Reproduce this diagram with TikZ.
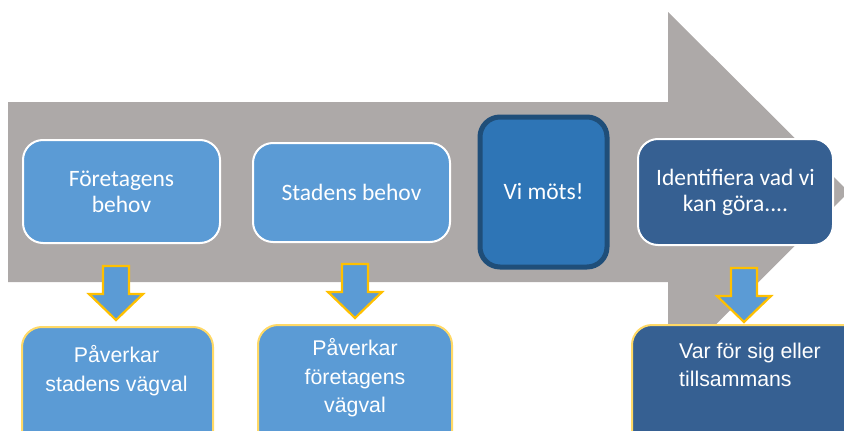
\documentclass[tikz,border=0pt]{standalone}
\usepackage{fontspec}
\setmainfont{Liberation Sans}
\newfontfamily\calfont{Carlito}
\usetikzlibrary{positioning}
\definecolor{arrowgray}{HTML}{ADA9A8}
\definecolor{lightblue}{HTML}{5B9BD5}
\definecolor{midblue}{HTML}{2E75B6}
\definecolor{deepblue}{HTML}{1F4E79}
\definecolor{darkblue}{HTML}{366092}
\definecolor{gold}{HTML}{FFC000}
\definecolor{softgold}{HTML}{FFD966}
\tikzset{topbox/.style={rectangle, rounded corners=20pt, draw=white, line width=2pt,
           fill=lightblue, text=white, align=center,
           font=\calfont\fontsize{23.5}{26}\selectfont},
         lowbox/.style={rectangle, rounded corners=20pt, draw=softgold, line width=2pt,
           fill=lightblue},
         lowtext/.style={text=white, inner sep=0pt, anchor=north,
           font=\fontsize{21.3}{28.5}\selectfont},
         blockarrow/.style={draw=gold, line width=2.2pt, fill=lightblue, line join=miter}}
\newcommand{\downblock}[2]{%
  \draw[blockarrow] (#1-13,#2) -- (#1+13,#2) -- (#1+13,#2+28) -- (#1+27,#2+28)
    -- (#1,#2+54) -- (#1-27,#2+28) -- (#1-13,#2+28) -- cycle;}
\begin{document}
\begin{tikzpicture}[x=1pt, y=-1pt]
        \useasboundingbox (0,0) rectangle (844,431);
        \clip (0,0) rectangle (844,431);

        % Big gray arrow
        \fill[arrowgray] (8,102) -- (668,102) -- (668,12) -- (849,192)
          -- (668,372) -- (668,282) -- (8,282) -- cycle;

        % Top row
        \node[topbox, minimum width=197pt, minimum height=103pt] (fb) at (121.5,191.5) {Företagens\\behov};
        \node[topbox, minimum width=197pt, minimum height=99pt] (sb) at (351.5,192.5) {Stadens behov};
        \node[topbox, fill=midblue, draw=deepblue, line width=5pt,
              minimum width=127pt, minimum height=150pt] (vm) at (543.5,192) {Vi möts!};
        \node[topbox, fill=darkblue, minimum width=195pt, minimum height=106pt] (ik) at (735.5,192) {Identifiera vad vi\\kan göra....};

        % Arrows down
        \downblock{116}{266}
        \downblock{355}{264}
        \downblock{744}{268}

        % Bottom row
        \node[lowbox, minimum width=191pt, minimum height=133pt] (pv1) at (117.5,393.5) {};
        \node[lowtext, align=center] (pv1t) at (116.5,345.4) {Påverkar\\stadens vägval};

        \node[lowbox, minimum width=194pt, minimum height=135pt] (pv2) at (355,392.5) {};
        \node[lowtext, align=center] (pv2t) at (355,338.4) {Påverkar\\företagens\\vägval};

        \node[lowbox, fill=darkblue, minimum width=248pt, minimum height=135pt] (vs) at (756,392.5) {};
        \node[lowtext, align=left, anchor=north west] (vst) at (679,342.5) {Var för sig eller\\tillsammans};

    \end{tikzpicture}
\end{document}
